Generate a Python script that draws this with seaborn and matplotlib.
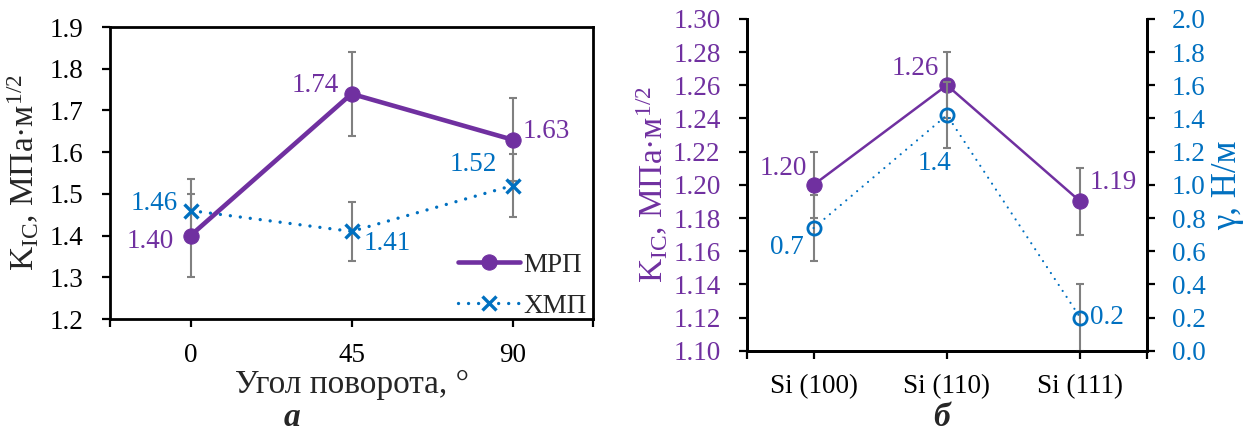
import numpy as np
import pandas as pd
import matplotlib
matplotlib.use("Agg")
import matplotlib.pyplot as plt
import seaborn as sns

# ---- data ----
angles = ["0", "45", "90"]
mrp = [1.40, 1.74, 1.63]
mrp_err = [0.10, 0.10, 0.10]
hmp = [1.46, 1.41, 1.52]
hmp_err = [0.075, 0.07, 0.075]

planes = ["Si (100)", "Si (110)", "Si (111)"]
kic = [1.20, 1.26, 1.19]
kic_err = [0.02, 0.02, 0.02]
gamma = [0.74, 1.42, 0.20]
gamma_err = [0.20, 0.20, 0.20]

PURPLE = "#7030A0"
BLUE = "#0070C0"
GRAY = "#808080"

sns.set_theme(style="white")
plt.rcParams["font.family"] = ["Liberation Serif", "DejaVu Serif"]
plt.rcParams["mathtext.fontset"] = "custom"
plt.rcParams["mathtext.rm"] = "Liberation Serif"
plt.rcParams["mathtext.it"] = "Liberation Serif:italic"
plt.rcParams["axes.unicode_minus"] = False

TICK = 19.5
LAB = 24
DL = 19.5

fig = plt.figure(figsize=(12.49, 4.37), dpi=100)
ax1 = fig.add_axes([0.0881, 0.270, 0.3867, 0.668])
ax2 = fig.add_axes([0.598, 0.197, 0.3203, 0.760])
ax2r = ax2.twinx()

eb = dict(fmt="none", ecolor=GRAY, elinewidth=1.5, capsize=3, capthick=1.5, zorder=1)

# ---------- left panel ----------
pos = np.arange(len(angles))
df1 = pd.DataFrame({"pos": pos, "mrp": mrp, "hmp": hmp})
ax1.errorbar(pos, mrp, yerr=mrp_err, **eb)
ax1.errorbar(pos, hmp, yerr=hmp_err, **eb)
sns.lineplot(data=df1, x="pos", y="mrp", ax=ax1, color=PURPLE, linewidth=3.3,
             marker="o", markersize=11, markeredgecolor=PURPLE, label="МРП", zorder=3)
sns.lineplot(data=df1, x="pos", y="hmp", ax=ax1, color=BLUE, linewidth=2.4,
             linestyle=(0, (0.01, 3.0)), dash_capstyle="round", marker="x", markersize=9.5,
             markeredgewidth=2.4, markeredgecolor=BLUE, label="ХМП", zorder=2)

ax1.set_xlim(-0.5, 2.5)
ax1.set_ylim(1.2, 1.9)
yt1 = np.arange(1.2, 1.91, 0.1)
ax1.set_yticks(yt1)
ax1.set_yticklabels([f"{v:.1f}" for v in yt1])
ax1.set_xticks(pos)
ax1.set_xticklabels(angles)
ax1.set_xticks([-0.5, 2.5], minor=True)
ax1.tick_params(axis="both", which="both", direction="out", length=6, width=1.6,
                labelsize=TICK, colors="black", bottom=True, left=True)
ax1.tick_params(axis="x", pad=11)
ax1.tick_params(axis="y", pad=13)
for s in ax1.spines.values():
    s.set_color("black")
    s.set_linewidth(2)
ax1.set_xlabel("Угол поворота, °", fontsize=LAB, labelpad=1)
ax1.set_ylabel(r"K$_{\rm IC}$, МПа·м$^{1/2}$", fontsize=LAB, labelpad=6)

lab_off1 = [(-12, -4), (-9, 6), (7, 6)]
for i, v in enumerate(mrp):
    x, y = lab_off1[i]
    ax1.annotate(f"{v:.2f}", (pos[i], v), textcoords="offset points", xytext=(x, y),
                 ha="right" if x < 0 else "left", va="center", color=PURPLE, fontsize=DL)
lab_off2 = [(-9, 5), (9, -9), (-11, 15)]
for i, v in enumerate(hmp):
    x, y = lab_off2[i]
    ax1.annotate(f"{v:.2f}", (pos[i], v), textcoords="offset points", xytext=(x, y),
                 ha="right" if x < 0 else "left", va="center", color=BLUE, fontsize=DL)

leg = ax1.legend(loc="lower right", bbox_to_anchor=(1.02, -0.055), frameon=False,
                 fontsize=DL, handlelength=2.3, handletextpad=0.1, labelspacing=0.6,
                 borderaxespad=0.2)

# ---------- right panel ----------
pos2 = np.arange(len(planes))
df2 = pd.DataFrame({"pos": pos2, "kic": kic, "gamma": gamma})
ax2.errorbar(pos2, kic, yerr=kic_err, **eb)
sns.lineplot(data=df2, x="pos", y="kic", ax=ax2, color=PURPLE, linewidth=1.8,
             marker="o", markersize=11, markeredgecolor=PURPLE, zorder=3)
ax2r.errorbar(pos2, gamma, yerr=gamma_err, **eb)
sns.lineplot(data=df2, x="pos", y="gamma", ax=ax2r, color=BLUE, linewidth=1.6,
             linestyle=(0, (0.01, 3.2)), dash_capstyle="round", marker="o", markersize=9.5,
             markerfacecolor="none", markeredgecolor=BLUE, markeredgewidth=2.0, zorder=3)

ax2.set_xlim(-0.5, 2.5)
ax2.set_ylim(1.10, 1.30)
ticks_l = np.arange(1.10, 1.301, 0.02)
ax2.set_yticks(ticks_l)
ax2.set_yticklabels([f"{v:.2f}" for v in ticks_l])
ax2r.set_ylim(0, 2.0)
ticks_r = np.arange(0, 2.01, 0.2)
ax2r.set_yticks(ticks_r)
ax2r.set_yticklabels([f"{v:.1f}" for v in ticks_r])
ax2.set_xticks(pos2)
ax2.set_xticklabels(planes)
ax2.set_xticks([-0.5, 2.5], minor=True)
ax2.tick_params(axis="both", which="both", direction="out", length=6, width=1.6,
                labelsize=TICK, colors="black", bottom=True, left=True)
ax2.tick_params(axis="x", pad=11)
ax2.tick_params(axis="y", labelcolor=PURPLE, pad=13)
ax2r.tick_params(axis="y", direction="out", length=6, width=1.6, labelsize=TICK,
                 colors="black", labelcolor=BLUE, right=True, pad=12)
for a in (ax2, ax2r):
    a.spines["top"].set_visible(False)
    for k in ("left", "right", "bottom"):
        a.spines[k].set_color("black")
        a.spines[k].set_linewidth(2)
ax2.set_xlabel("")
ax2r.set_xlabel("")
ax2.set_ylabel(r"K$_{\rm IC}$, МПа·м$^{1/2}$", fontsize=LAB, color=PURPLE, labelpad=2)
ax2r.set_ylabel("γ, Н/м", fontsize=25, color=BLUE, labelpad=4)

lab_k = [(-5, 12), (-6, 12), (6.5, 14)]
for i, v in enumerate(kic):
    x, y = lab_k[i]
    ax2.annotate(f"{v:.2f}", (pos2[i], v), textcoords="offset points", xytext=(x, y),
                 ha="right" if x < 0 else "left", va="center", color=PURPLE, fontsize=DL)
lab_g = [(-7, -14), (-9, -35), (7, 0)]
ha_g = ["right", "center", "left"]
for i, v in enumerate(gamma):
    x, y = lab_g[i]
    ax2r.annotate(f"{v:.1f}", (pos2[i], v), textcoords="offset points", xytext=(x, y),
                  ha=ha_g[i], va="center", color=BLUE, fontsize=DL)

fig.text(0.234, 0.045, "а", fontsize=24, fontweight="bold", fontstyle="italic", ha="center", va="center")
fig.text(0.754, 0.045, "б", fontsize=24, fontweight="bold", fontstyle="italic", ha="center", va="center")

fig.savefig("out.png", dpi=100)
